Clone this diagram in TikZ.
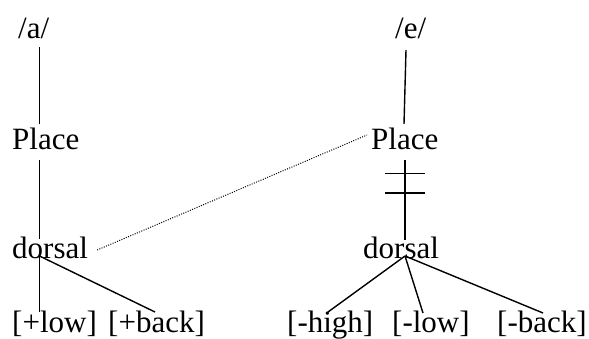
\documentclass[tikz,border=0pt]{standalone}
\usepackage{fontspec}
\setmainfont{Liberation Serif}
\usetikzlibrary{positioning,calc}

\begin{document}
\begin{tikzpicture}[
  x=1pt,y=1pt,
  seg/.style={
    anchor=base west,
    inner sep=0pt,
    font=\fontsize{31}{36}\selectfont
  },
  branch/.style={line width=1.4pt},
  link/.style={line width=1pt,dash pattern=on 1pt off 1.4pt}
]
\useasboundingbox (0,0) rectangle (589,-338);
% /a/ column
\node[seg] (a) at (18,-38) {/a/};
\node[seg] (placeA) at (12,-149) {Place};
\node[seg] (dorsA) at (12,-258) {dorsal};
\node[seg] (lowA) at (12,-332) {[+low]};
\node[seg] (backA) at (108,-332) {[+back]};
\coordinate (jA) at (39.5,-256);
% /e/ column
\node[seg] (e) at (395,-38) {/e/};
\node[seg] (placeE) at (371,-149) {Place};
\node[seg] (dorsE) at (363,-258) {dorsal};
\node[seg] (highE) at (287,-332) {[-high]};
\node[seg] (lowE) at (392,-332) {[-low]};
\node[seg] (backE) at (497,-332) {[-back]};
\coordinate (jE) at (405,-256);

\draw[branch] ([yshift=-9pt]a.base -| jA) -- ([yshift=25pt]placeA.base -| jA);
\draw[branch] ([yshift=-11pt]placeA.base -| jA) -- ([yshift=19pt]dorsA.base -| jA);
\draw[branch] (jA) -- ([yshift=20pt]lowA.base -| jA);
\draw[branch] (jA) -- ([xshift=47pt,yshift=20pt]backA.base west);

\draw[branch] ([xshift=11pt,yshift=-12pt]e.base west)
  -- ([xshift=33pt,yshift=25pt]placeE.base west);
\draw[branch] ([yshift=-11pt]placeE.base -| jE)
  -- coordinate[pos=.17] (bar1) coordinate[pos=.41] (bar2)
  ([yshift=18pt]dorsE.base -| jE);
\draw[branch] ([xshift=-20pt]bar1) -- ([xshift=20pt]bar1);
\draw[branch] ([xshift=-20pt]bar2) -- ([xshift=20pt]bar2);
\draw[branch] (jE) -- ([xshift=41pt,yshift=20pt]highE.base west);
\draw[branch] (jE) -- ([xshift=31pt,yshift=19pt]lowE.base west);
\draw[branch] (jE) -- ([xshift=46pt,yshift=19pt]backE.base west);

% delinking
\draw[link] ([xshift=9pt,yshift=8pt]dorsA.base east)
  -- ([xshift=-4pt,yshift=14pt]placeE.base west);
\end{tikzpicture}
\end{document}
